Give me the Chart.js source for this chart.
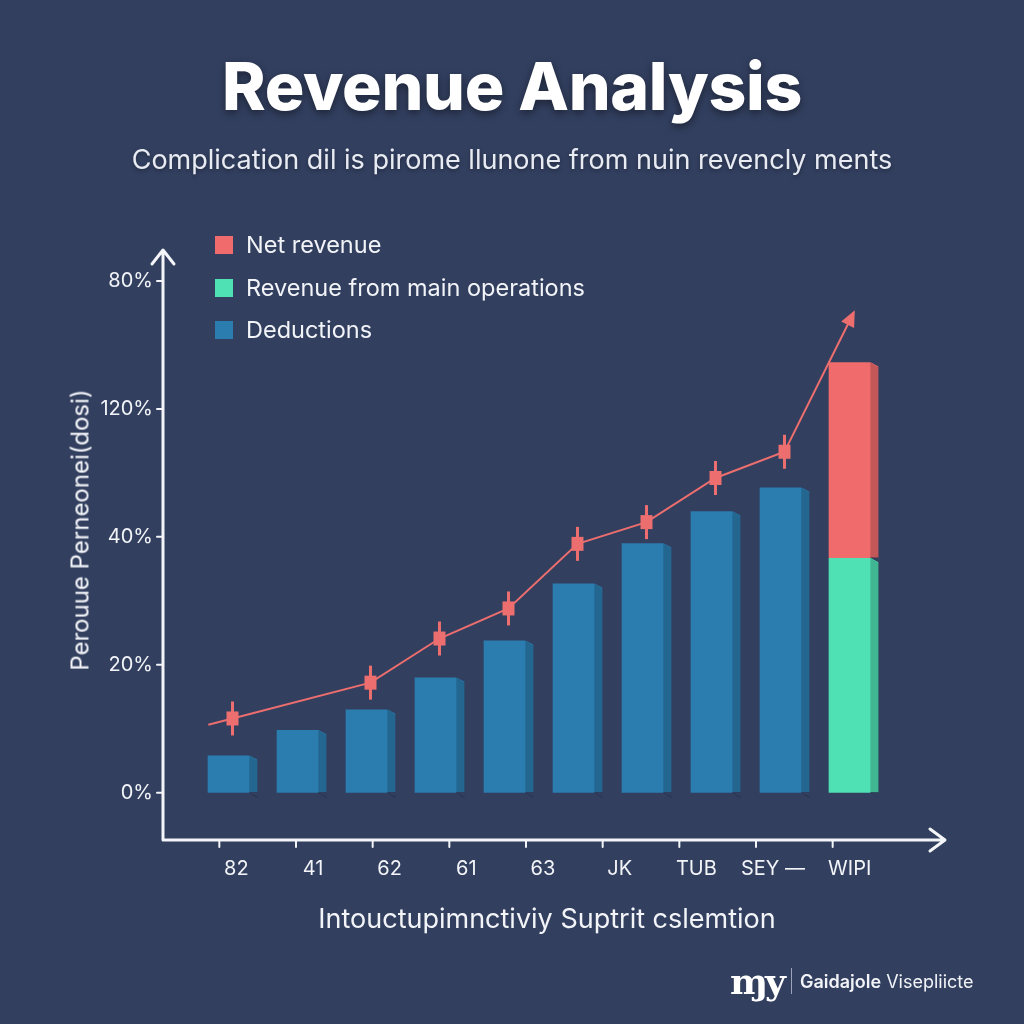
<!DOCTYPE html>
<html>
<head>
<meta charset="utf-8">
<script src="https://cdn.jsdelivr.net/npm/chart.js@4.4.1/dist/chart.umd.min.js"></script>
<style>
    html, body { margin: 0; padding: 0; background: #323f5f; }
    #wrap { position: relative; width: 1024px; height: 1024px; background: #323f5f; overflow: hidden; font-family: 'Inter', 'Roboto', sans-serif; color: #fff; }
    #chart { position: absolute; left: 0; top: 0; }
    .title { position: absolute; left: 0; width: 1024px; top: 46px; text-align: center; font-family: 'Inter', sans-serif; font-weight: 800; font-size: 66px; letter-spacing: -0.3px; color: #fff; text-shadow: 0 3px 8px rgba(0,0,0,0.45); }
    .subtitle { position: absolute; left: 0; width: 1024px; top: 143px; text-align: center; font-size: 27px; color: #e8ebf2; text-shadow: 0 2px 4px rgba(0,0,0,0.35); }
    .legend { position: absolute; left: 215px; top: 229px; }
    .legend div { position: relative; height: 42.5px; font-size: 23.5px; color: #f2f4f8; padding-left: 31px; line-height: 32px; }
    .legend span { position: absolute; left: 0; top: 7px; width: 18px; height: 18px; }
    .ytitle { position: absolute; left: 80px; top: 530px; transform: translate(-50%, -50%) rotate(-90deg); white-space: nowrap; font-size: 24px; color: #f2f4f8; }
    .xtitle { position: absolute; left: 0; width: 1094px; top: 902px; text-align: center; font-size: 27px; color: #f2f4f8; }
    .footer { position: absolute; left: 730px; top: 960px; display: flex; align-items: center; }
    .footer .logo { font-family: 'DejaVu Serif', serif; font-weight: bold; font-size: 36px; letter-spacing: -3px; color: #fff; }
    .footer .sep { width: 1px; height: 26px; background: #9aa3b8; margin: 0 8px 0 8px; }
    .footer .brand { font-size: 18px; color: #f2f4f8; }
    .footer .brand b { font-weight: 600; }
</style>
</head>
<body>
<div id="wrap">
    <canvas id="chart" width="1024" height="1024"></canvas>
    <div class="title">Revenue Analysis</div>
    <div class="subtitle">Complication dil is pirome llunone from nuin revencly ments</div>
    <div class="legend" id="legend"></div>
    <div class="ytitle">Perouue Perneonei(dosi)</div>
    <div class="xtitle">Intouctupimnctiviy Suptrit cslemtion</div>
    <div class="footer"><span class="logo">ɱy</span><span class="sep"></span><span class="brand"><b>Gaidajole</b> Visepliicte</span></div>
</div>
<script>
// chart data
const barSlots = ['b1', 'b2', 'b3', 'b4', 'b5', 'b6', 'b7', 'b8', 'b9', 'b10'];
const xTickLabels = ['82', '41', '62', '61', '63', 'JK', 'TUB', 'SEY —', 'WIPI'];
const yTickValues = [0, 20, 40, 60, 80];
const yTickLabels = ['0%', '20%', '40%', '120%', '80%'];

const deductions = [5.8, 9.8, 13, 18, 23.8, 32.7, 39, 44, 47.7, null];
const mainOperations = [null, null, null, null, null, null, null, null, null, 36.7];
const netRevenue = [null, null, null, null, null, null, null, null, null, 30.6];
const trendLine = [11.6, null, 17.2, 24.1, 28.8, 38.9, 42.3, 49.2, 53.3, 75];

const legendItems = ['Net revenue', 'Revenue from main operations', 'Deductions'];
const legendColors = ['#f06c6c', '#4fe0b3', '#2b7db0'];

const BG = '#323f5f';
const AXIS = '#f4f5f8';
const LINE = '#ec6e6e';

document.addEventListener('DOMContentLoaded', function() {
    buildLegend();
    drawChart();
});

// html legend
function buildLegend() {
    const box = document.getElementById('legend');
    legendItems.forEach((name, i) => {
        const row = document.createElement('div');
        row.innerHTML = `<span style="background:${legendColors[i]}"></span>${name}`;
        box.appendChild(row);
    });
}

// axes with arrows, tick marks, bar sides, whisker markers
const decorPlugin = {
    id: 'decor',
    beforeDatasetsDraw(chart) {
        const ctx = chart.ctx;
        const y = chart.scales.y;
        const x2 = chart.scales.x2;
        const axisX = 163, axisY = 840;
        ctx.save();
        ctx.strokeStyle = AXIS;
        ctx.lineWidth = 3;
        ctx.lineCap = 'round';
        ctx.lineJoin = 'round';
        // y axis
        ctx.beginPath();
        ctx.moveTo(axisX, axisY);
        ctx.lineTo(axisX, 252);
        ctx.moveTo(axisX - 11, 264);
        ctx.lineTo(axisX, 250);
        ctx.lineTo(axisX + 11, 264);
        // x axis
        ctx.moveTo(axisX, axisY);
        ctx.lineTo(943, axisY);
        ctx.moveTo(930, axisY - 11);
        ctx.lineTo(945, axisY);
        ctx.lineTo(930, axisY + 11);
        ctx.stroke();
        ctx.lineWidth = 2;
        ctx.beginPath();
        yTickValues.forEach(v => {
            const py = y.getPixelForValue(v);
            ctx.moveTo(axisX - 6, py);
            ctx.lineTo(axisX, py);
        });
        x2.ticks.forEach((t, i) => {
            const px = x2.getPixelForTick(i) - 17;
            ctx.moveTo(px, axisY);
            ctx.lineTo(px, axisY + 7);
        });
        ctx.stroke();
        ctx.restore();
    },
    afterDatasetsDraw(chart) {
        const ctx = chart.ctx;
        ctx.save();
        // darker right side on each bar
        chart.data.datasets.forEach((ds, di) => {
            if (ds.type === 'line') return;
            chart.getDatasetMeta(di).data.forEach(el => {
                if (el.skip || el.height === 0 || isNaN(el.y)) return;
                const right = el.x + el.width / 2;
                const top = Math.min(el.y, el.base);
                const bottom = Math.max(el.y, el.base);
                ctx.fillStyle = 'rgba(0,0,0,0.18)';
                ctx.beginPath();
                ctx.moveTo(right - 8, top);
                ctx.lineTo(right, top + 5);
                ctx.lineTo(right, bottom);
                ctx.lineTo(right - 8, bottom);
                ctx.closePath();
                ctx.fill();
                ctx.fillStyle = BG;
                ctx.beginPath();
                ctx.moveTo(right - 8.5, top - 0.5);
                ctx.lineTo(right + 0.5, top - 0.5);
                ctx.lineTo(right + 0.5, top + 4.5);
                ctx.closePath();
                ctx.fill();
            });
        });
        // trend line markers and arrow
        const li = chart.data.datasets.findIndex(d => d.type === 'line');
        const pts = chart.getDatasetMeta(li).data.filter((p, i) => trendLine[i] !== null);
        ctx.strokeStyle = LINE;
        ctx.fillStyle = LINE;
        ctx.lineWidth = 2;
        // short lead-in segment before the first point
        const a = pts[0], b = pts[1];
        const len = Math.hypot(b.x - a.x, b.y - a.y);
        ctx.beginPath();
        ctx.moveTo(a.x, a.y);
        ctx.lineTo(a.x - (b.x - a.x) / len * 25, a.y - (b.y - a.y) / len * 25);
        ctx.stroke();
        pts.slice(0, -1).forEach(p => {
            ctx.lineWidth = 3;
            ctx.beginPath();
            ctx.moveTo(p.x, p.y - 17);
            ctx.lineTo(p.x, p.y + 17);
            ctx.stroke();
            ctx.fillRect(p.x - 6, p.y - 7, 12, 14);
        });
        const tip = pts[pts.length - 1];
        const prev = pts[pts.length - 2];
        const ang = Math.atan2(tip.y - prev.y, tip.x - prev.x);
        ctx.beginPath();
        ctx.moveTo(tip.x + 3 * Math.cos(ang), tip.y + 3 * Math.sin(ang));
        ctx.lineTo(tip.x - 15 * Math.cos(ang - 0.5), tip.y - 15 * Math.sin(ang - 0.5));
        ctx.lineTo(tip.x - 15 * Math.cos(ang + 0.5), tip.y - 15 * Math.sin(ang + 0.5));
        ctx.closePath();
        ctx.fill();
        ctx.restore();
    }
};

function drawChart() {
    const ctx = document.getElementById('chart');
    new Chart(ctx, {
        data: {
            labels: barSlots,
            datasets: [
                {
                    type: 'line',
                    label: 'trend',
                    data: trendLine,
                    borderColor: LINE,
                    borderWidth: 2,
                    pointRadius: 0,
                    spanGaps: true,
                    tension: 0,
                    stack: 'line',
                    order: 0
                },
                {
                    type: 'bar',
                    label: legendItems[2],
                    data: deductions,
                    backgroundColor: legendColors[2],
                    stack: 'bars',
                    barPercentage: 0.8,
                    categoryPercentage: 0.9,
                    order: 1
                },
                {
                    type: 'bar',
                    label: legendItems[1],
                    data: mainOperations,
                    backgroundColor: legendColors[1],
                    stack: 'bars',
                    barPercentage: 0.8,
                    categoryPercentage: 0.9,
                    order: 1
                },
                {
                    type: 'bar',
                    label: legendItems[0],
                    data: netRevenue,
                    backgroundColor: legendColors[0],
                    stack: 'bars',
                    barPercentage: 0.8,
                    categoryPercentage: 0.9,
                    order: 1
                }
            ]
        },
        options: {
            responsive: false,
            animation: false,
            layout: { padding: { left: 60, right: 136, top: 249, bottom: 124 } },
            plugins: {
                legend: { display: false },
                tooltip: { enabled: false }
            },
            scales: {
                x: {
                    stacked: true,
                    ticks: { display: false },
                    grid: { display: false, drawTicks: false },
                    border: { display: false },
                    afterFit: s => { s.height = 0; }
                },
                x2: {
                    type: 'category',
                    labels: xTickLabels,
                    position: 'bottom',
                    offset: true,
                    ticks: { color: '#f2f4f8', font: { family: 'Inter', size: 20 }, padding: 17, maxRotation: 0, autoSkip: false },
                    grid: { display: false, drawTicks: false },
                    border: { display: false },
                    afterFit: s => { s.height = 60; }
                },
                y: {
                    stacked: true,
                    min: -7.4,
                    max: 85,
                    afterBuildTicks: s => { s.ticks = yTickValues.map(v => ({ value: v })); },
                    ticks: {
                        color: '#f2f4f8',
                        font: { family: 'Inter', size: 20 },
                        padding: 45,
                        callback: (v, i) => yTickLabels[i]
                    },
                    grid: { display: false, drawTicks: false },
                    border: { display: false },
                    afterFit: s => { s.width = 138; }
                }
            }
        },
        plugins: [decorPlugin]
    });
}
</script>
</body>
</html>
